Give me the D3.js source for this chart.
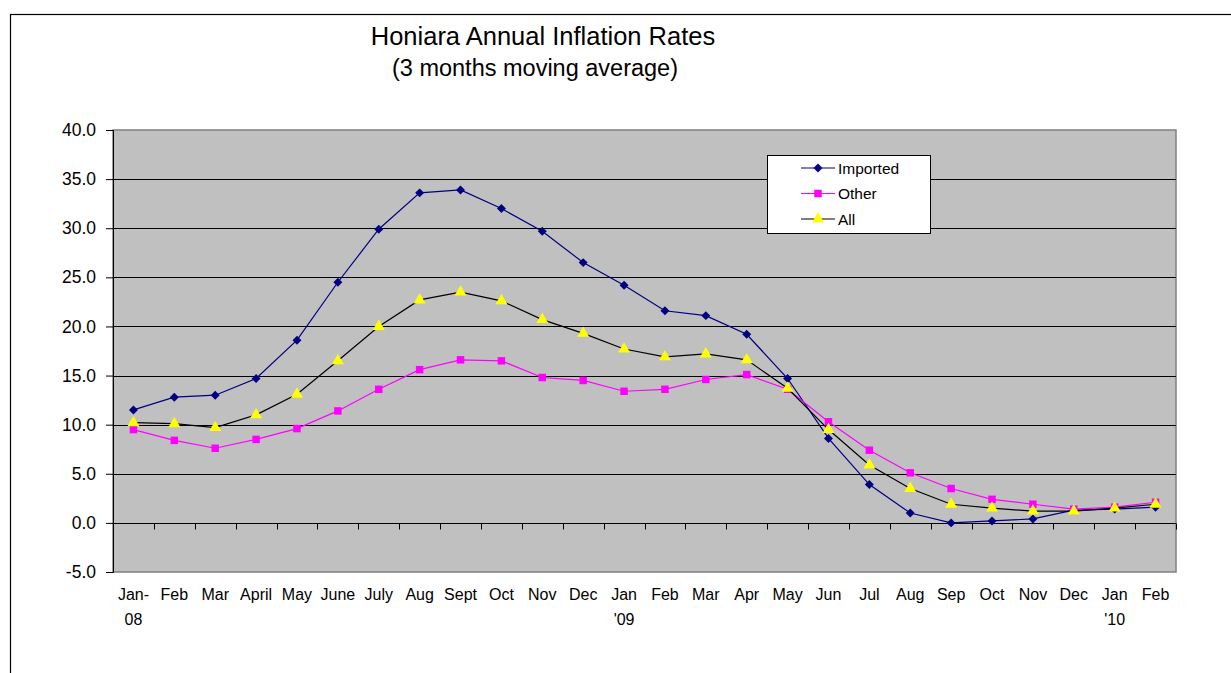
<!DOCTYPE html>
<html>
<head>
<meta charset="utf-8">
<script src="https://cdn.jsdelivr.net/npm/d3@7/dist/d3.min.js"></script>
<style>
  body { margin: 0; background: #fff; }
  svg text { font-family: Arial, "Liberation Sans", sans-serif; fill: #000; }
</style>
</head>
<body>
<svg id="chart" width="1231" height="673"></svg>
<script>
// month labels (line 1 and line 2)
var months = [ 'Jan-', 'Feb', 'Mar', 'April', 'May', 'June', 'July', 'Aug', 'Sept', 'Oct', 'Nov', 'Dec',
	'Jan', 'Feb', 'Mar', 'Apr', 'May', 'Jun', 'Jul', 'Aug', 'Sep', 'Oct', 'Nov', 'Dec', 'Jan', 'Feb' ];
var years = [ '08', '', '', '', '', '', '', '', '', '', '', '',
	"'09", '', '', '', '', '', '', '', '', '', '', '', "'10", '' ];

var imported = [ 11.5, 12.8, 13.0, 14.7, 18.6, 24.5, 29.9, 33.6, 33.9, 32.0, 29.7, 26.5,
	24.2, 21.6, 21.1, 19.2, 14.7, 8.6, 3.9, 1.0, 0.0, 0.2, 0.4, 1.3, 1.4, 1.6 ];
var other = [ 9.5, 8.4, 7.6, 8.5, 9.6, 11.4, 13.6, 15.6, 16.6, 16.5, 14.8, 14.5,
	13.4, 13.6, 14.6, 15.1, 13.6, 10.3, 7.4, 5.1, 3.5, 2.4, 1.9, 1.4, 1.6, 2.1 ];
var all = [ 10.2, 10.1, 9.7, 11.0, 13.1, 16.5, 20.0, 22.7, 23.5, 22.6, 20.7, 19.3,
	17.7, 16.9, 17.2, 16.6, 13.7, 9.5, 5.9, 3.5, 1.9, 1.5, 1.2, 1.2, 1.5, 1.9 ];

var yTicks = [ -5, 0, 5, 10, 15, 20, 25, 30, 35, 40 ];

var series = [
	{ name: 'Imported', values: imported, line: '#000080', fill: '#000080', shape: 'diamond' },
	{ name: 'Other', values: other, line: '#FF00FF', fill: '#FF00FF', shape: 'square' },
	{ name: 'All', values: all, line: '#000000', fill: '#FFFF00', shape: 'triangle' }
];

var svg = d3.select( '#chart' );
var plot = { left: 113, top: 130, right: 1176, bottom: 572 };

var x = d3.scaleBand()
	.domain( d3.range( months.length ) )
	.range( [ plot.left, plot.right ] );
var y = d3.scaleLinear()
	.domain( [ -5, 40 ] )
	.range( [ plot.bottom, plot.top ] );

/**
 * Marker path for a series shape
 */
function marker( shape ) {
	if ( shape === 'diamond' ) {
		// rotated square, like the Excel diamond
		return d3.symbol().type( d3.symbolSquare ).size( 40 )();
	}
	if ( shape === 'square' ) {
		return d3.symbol().type( d3.symbolSquare ).size( 56 )();
	}
	return d3.symbol().type( d3.symbolTriangle ).size( 62 )();
}
function markerRotate( shape ) {
	return shape === 'diamond' ? ' rotate(45)' : '';
}

// outer frame (only left and top edges are visible)
svg.append( 'rect' )
	.attr( 'x', 10.5 ).attr( 'y', 14.5 )
	.attr( 'width', 1300 ).attr( 'height', 800 )
	.attr( 'fill', 'none' ).attr( 'stroke', '#000' ).attr( 'stroke-width', 1.2 );

// titles
svg.append( 'text' )
	.attr( 'x', 543 ).attr( 'y', 45 )
	.attr( 'text-anchor', 'middle' )
	.style( 'font-size', '25.5px' )
	.text( 'Honiara Annual Inflation Rates' );
svg.append( 'text' )
	.attr( 'x', 535 ).attr( 'y', 76 )
	.attr( 'text-anchor', 'middle' )
	.style( 'font-size', '23.5px' )
	.text( '(3 months moving average)' );

// plot area
svg.append( 'rect' )
	.attr( 'x', plot.left ).attr( 'y', plot.top )
	.attr( 'width', plot.right - plot.left ).attr( 'height', plot.bottom - plot.top )
	.attr( 'fill', '#C0C0C0' ).attr( 'stroke', '#808080' ).attr( 'stroke-width', 1.5 );

// gridlines
svg.append( 'g' ).selectAll( 'line' )
	.data( yTicks.filter( function( t ) { return t > -5 && t < 40; } ) )
	.enter().append( 'line' )
		.attr( 'x1', plot.left ).attr( 'x2', plot.right )
		.attr( 'y1', function( t ) { return Math.round( y( t ) ) + 0.5; } )
		.attr( 'y2', function( t ) { return Math.round( y( t ) ) + 0.5; } )
		.attr( 'stroke', '#000' ).attr( 'stroke-width', 1.2 );

// y axis
var yAxis = svg.append( 'g' )
	.attr( 'transform', 'translate(' + plot.left + ',0)' )
	.call( d3.axisLeft( y ).tickValues( yTicks )
		.tickFormat( function( d ) { return d.toFixed( 1 ); } )
		.tickSize( 7 ).tickPadding( 10 ) );
yAxis.select( '.domain' ).attr( 'stroke', '#000' );
yAxis.selectAll( 'line' ).attr( 'stroke', '#000' );
yAxis.selectAll( 'text' ).style( 'font-size', '17.5px' ).attr( 'fill', '#000' );

// x axis at zero, ticks between categories
var zeroY = Math.round( y( 0 ) ) + 0.5;
svg.append( 'line' )
	.attr( 'x1', plot.left ).attr( 'x2', plot.right )
	.attr( 'y1', zeroY ).attr( 'y2', zeroY )
	.attr( 'stroke', '#000' ).attr( 'stroke-width', 1.2 );
svg.append( 'g' ).selectAll( 'line' )
	.data( d3.range( months.length + 1 ) )
	.enter().append( 'line' )
		.attr( 'x1', function( i ) { return Math.round( plot.left + i * x.step() ) + 0.5; } )
		.attr( 'x2', function( i ) { return Math.round( plot.left + i * x.step() ) + 0.5; } )
		.attr( 'y1', zeroY ).attr( 'y2', zeroY + 6 )
		.attr( 'stroke', '#000' );

// x labels below plot
var xl = svg.append( 'g' ).selectAll( 'g' )
	.data( months )
	.enter().append( 'g' )
		.attr( 'transform', function( d, i ) { return 'translate(' + ( x( i ) + x.bandwidth() / 2 ) + ',0)'; } );
xl.append( 'text' )
	.attr( 'y', 600 ).attr( 'text-anchor', 'middle' )
	.style( 'font-size', '16px' )
	.text( function( d ) { return d; } );
xl.append( 'text' )
	.attr( 'y', 625 ).attr( 'text-anchor', 'middle' )
	.style( 'font-size', '16px' )
	.text( function( d, i ) { return years[ i ]; } );

// lines and markers
var line = d3.line()
	.x( function( d, i ) { return x( i ) + x.bandwidth() / 2; } )
	.y( function( d ) { return y( d ); } );

series.forEach( function( s ) {
	svg.append( 'path' )
		.datum( s.values )
		.attr( 'd', line )
		.attr( 'fill', 'none' )
		.attr( 'stroke', s.line )
		.attr( 'stroke-width', 1.2 );
	svg.append( 'g' ).selectAll( 'path' )
		.data( s.values )
		.enter().append( 'path' )
			.attr( 'd', marker( s.shape ) )
			.attr( 'transform', function( d, i ) {
				return 'translate(' + ( x( i ) + x.bandwidth() / 2 ) + ',' + y( d ) + ')' + markerRotate( s.shape );
			} )
			.attr( 'fill', s.fill );
} );

// legend
var lg = svg.append( 'g' ).attr( 'transform', 'translate(767,155)' );
lg.append( 'rect' )
	.attr( 'x', 0.5 ).attr( 'y', 0.5 )
	.attr( 'width', 163 ).attr( 'height', 78 )
	.attr( 'fill', '#fff' ).attr( 'stroke', '#000' );
series.forEach( function( s, i ) {
	var ry = 13 + i * 25.5;
	lg.append( 'line' )
		.attr( 'x1', 34 ).attr( 'x2', 68 )
		.attr( 'y1', ry ).attr( 'y2', ry )
		.attr( 'stroke', s.line ).attr( 'stroke-width', 1.2 );
	lg.append( 'path' )
		.attr( 'd', marker( s.shape ) )
		.attr( 'transform', 'translate(51,' + ry + ')' + markerRotate( s.shape ) )
		.attr( 'fill', s.fill );
	lg.append( 'text' )
		.attr( 'x', 71 ).attr( 'y', ry + 5.5 )
		.style( 'font-size', '15.5px' )
		.text( s.name );
} );
</script>
</body>
</html>
